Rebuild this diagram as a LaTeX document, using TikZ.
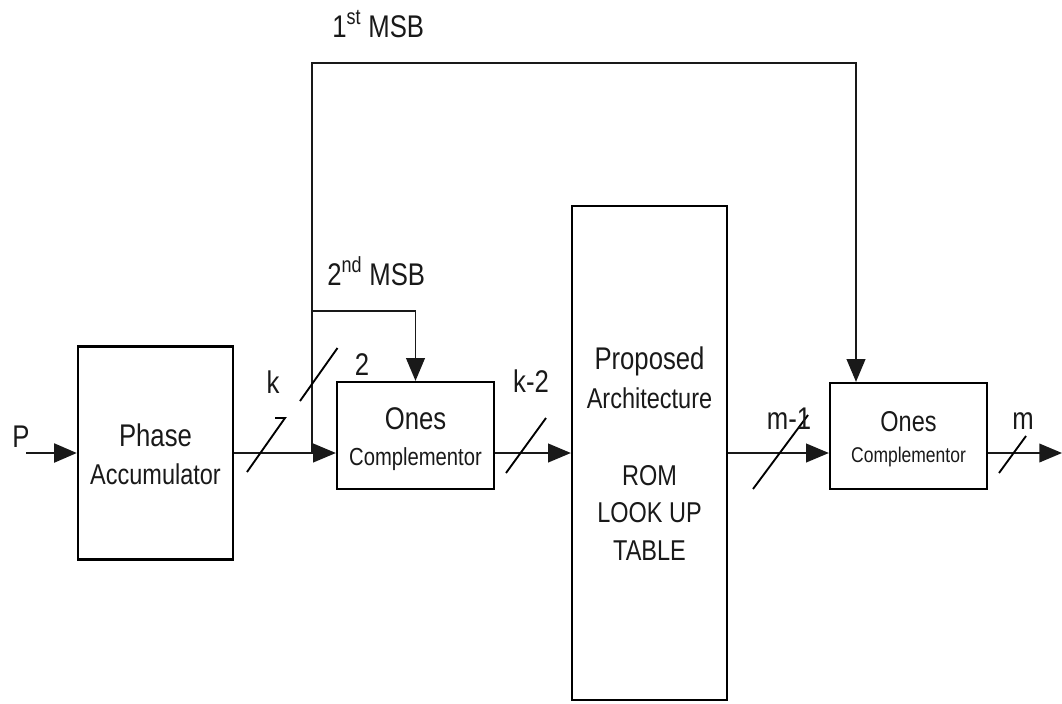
\documentclass[tikz,border=0pt]{standalone}
\usepackage{fontspec}
\setmainfont{Liberation Sans}[FakeStretch=0.82]
\usetikzlibrary{arrows.meta}
\newdimen\pxu \pxu=0.75pt
\begin{document}
\begin{tikzpicture}[x=0.75pt,y=-0.75pt,
  box/.style={draw=black,line width=1.7pt,inner sep=0pt,fill=none},
  wire/.style={draw=black!90,line width=1.2pt},
  arr/.style={wire,-{Triangle[length=17pt,width=14pt]}},
  tick/.style={draw=black,line width=1.4pt},
  lbl/.style={inner sep=0pt,anchor=base,text=black!90},
  big/.style={lbl,font=\fontsize{23.5pt}{26pt}\selectfont},
  mid/.style={lbl,font=\fontsize{21.5pt}{24pt}\selectfont},
  small/.style={lbl,font=\fontsize{18.5pt}{21pt}\selectfont},
  tiny/.style={lbl,font=\fontsize{16pt}{19pt}\selectfont}]
\useasboundingbox (0,0) rectangle (1062,703);

% boxes
\node[box,minimum width=155\pxu,minimum height=213\pxu] (acc) at (155.5,453) {};
\node[box,minimum width=157\pxu,minimum height=107\pxu] (oc1) at (415.5,435.5) {};
\node[box,minimum width=155\pxu,minimum height=494\pxu] (rom) at (649.5,453) {};
\node[box,minimum width=157\pxu,minimum height=106\pxu] (oc2) at (908.5,436) {};

% box texts
\node[big] (t-phase) at (155.5,446) {Phase};
\node[mid] (t-acc) at (155.5,484) {Accumulator};
\node[big] (t-ones1) at (415.5,429) {Ones};
\node[small] (t-comp1) at (415.5,465) {Complementor};
\node[big] (t-prop) at (649.5,369) {Proposed};
\node[mid] (t-arch) at (649.5,408) {Architecture};
\node[mid] (t-rom) at (649.5,485) {ROM};
\node[mid] (t-look) at (649.5,522) {LOOK UP};
\node[mid] (t-table) at (649.5,560) {TABLE};
\node[mid] (t-ones2) at (908.5,431) {Ones};
\node[tiny] (t-comp2) at (908.5,462) {Complementor};

% coordinates
\coordinate (pin) at (26,453);
\coordinate (j) at (312,453);
\coordinate (tl) at (312,63);
\coordinate (tr) at (856,63);
\coordinate (b) at (312,311);
\coordinate (out) at (1062,453);

% connectors
\draw[arr,line width=2.2pt] (pin) -- (pin -| acc.west);
\draw[wire] (j -| acc.east) -- (j);
\draw[arr] (j) -- (j -| oc1.west);
\draw[wire] (j) -- (b);
\draw[arr] (b) -| (oc1.north);
\draw[arr] (b) -- (tl) -- (tr) -- (tr |- oc2.north);
\draw[arr] (j -| oc1.east) -- (j -| rom.west);
\draw[arr] (j -| rom.east) -- (j -| oc2.west);
\draw[arr] (j -| oc2.east) -- (out);

% bus slashes
\draw[tick,line join=miter] (247,472) -- (285,418) -- (275,418);
\draw[tick] (300,401) -- (337.5,348);
\draw[tick] (506,473) -- (546,418);
\draw[tick] (753,489) -- (808,415);
\draw[tick] (999,473) -- (1026,436);

% labels
\node[big] (l-p) at (21,447) {P};
\node[big] (l-k) at (273,393) {k};
\node[big] (l-2) at (362,375) {2};
\node[big] (l-k2) at (531,392) {k-2};
\node[big] (l-m1) at (789,429) {m-1};
\node[big] (l-m) at (1023,429) {m};
\node[big,anchor=base west] (l-1st) at (332,37) {1\textsuperscript{st} MSB};
\node[big,anchor=base west] (l-2nd) at (327,285) {2\textsuperscript{nd} MSB};
\end{tikzpicture}
\end{document}
